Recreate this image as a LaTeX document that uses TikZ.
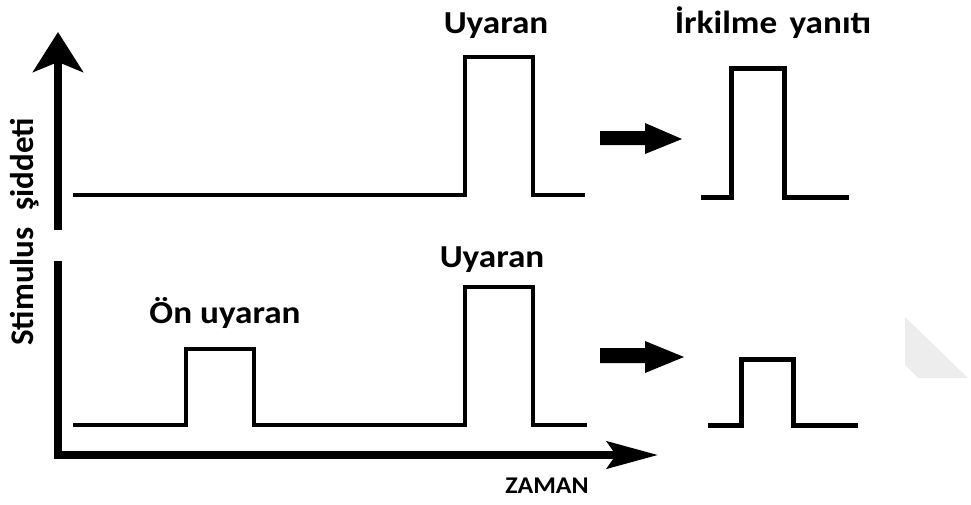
\documentclass[tikz,border=0pt]{standalone}
\usepackage{fontspec}
\setmainfont{Carlito}
\usetikzlibrary{arrows.meta}
\begin{document}
\begin{tikzpicture}[x=1pt,y=-1pt,
  lbl/.style={font=\fontsize{32}{36}\selectfont\bfseries, inner sep=0pt, anchor=base, xscale=1.1},
  smalllbl/.style={font=\fontsize{24}{28}\selectfont\bfseries, inner sep=0pt, anchor=base, xscale=1.08},
  axisline/.style={line width=7.5pt, line join=miter},
  sig/.style={line width=4pt, line join=miter},
  resp/.style={line width=5pt, line join=miter},
  fatarrow/.style={fill=black, draw=none},
  ghost/.style={fill=black!7, draw=none}]
\useasboundingbox (0,0) rectangle (971,504);
% axes
\coordinate (ytop) at (58,32);
\coordinate (ybreak) at (58,230);
\coordinate (ylow) at (58,261);
\coordinate (origin) at (58,455);
\coordinate (xend) at (658,455);
\draw[axisline, -{Stealth[length=40pt,width=50pt,inset=10pt]}] (ybreak) -- (ytop);
\draw[axisline, -{Stealth[length=51pt,width=27pt,inset=9pt]}] (ylow) -- (origin) -- (xend);
% axis labels
\node[font=\fontsize{33}{36}\selectfont\bfseries, inner sep=0pt, rotate=90] (ylabel) at (25,232) {Stimulus\hspace{0.5em}şiddeti};
\node[smalllbl] (zaman) at (547,493) {ZAMAN};
% top trace
\draw[sig] (73,195) -- (465,195) -- (465,57) -- (533,57) -- (533,195) -- (585,195);
\node[lbl] (uyaran1) at (496,33) {Uyaran};
% bottom trace
\draw[sig] (73,425) -- (186,425) -- (186,349) -- (254,349) -- (254,425) -- (465,425) -- (465,287) -- (533,287) -- (533,425) -- (587,425);
\node[lbl] (onuyaran) at (225,323) {Ön uyaran};
\node[lbl] (uyaran2) at (492,267) {Uyaran};
% thick arrows
\fill[fatarrow] (600,131) -- (645,131) -- (645,123) -- (682,139) -- (645,154) -- (645,145) -- (600,145) -- cycle;
\fill[fatarrow] (600,348) -- (645,348) -- (645,341) -- (684,357) -- (645,373) -- (645,363) -- (600,363) -- cycle;
% responses
\draw[resp] (701,197) -- (731,197) -- (731,68) -- (784,68) -- (784,197) -- (849,197);
\node[lbl] (irkilme) at (773,33) {İrkilme\hspace{0.35em}yanıtı};
\draw[resp] (708,425) -- (741,425) -- (741,359) -- (793,359) -- (793,425) -- (858,425);
% faint corner mark
\fill[ghost] (905,317) -- (968,378) -- (918,378) -- (905,365) -- cycle;
\end{tikzpicture}
\end{document}
